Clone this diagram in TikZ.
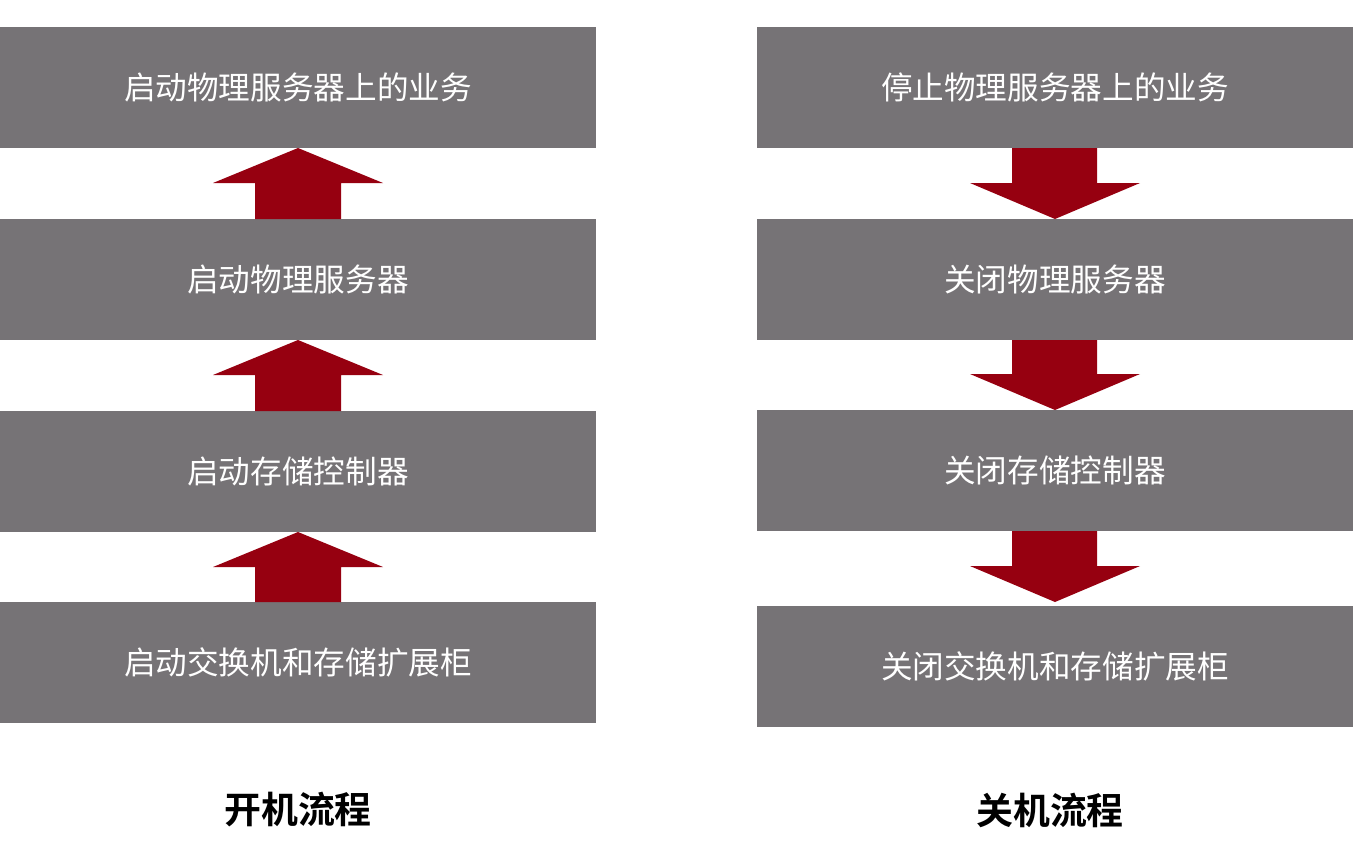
\documentclass[tikz,border=0pt]{standalone}
\usepackage{fontspec}
\setmainfont{Noto Sans CJK SC}[BoldFont={Noto Sans CJK SC Bold}]
\usetikzlibrary{positioning}
\definecolor{boxgray}{HTML}{767376}
\definecolor{arrowred}{HTML}{960010}
\begin{document}
\begin{tikzpicture}[x=0.02cm,y=-0.02cm,
    stepbox/.style={rectangle, fill=boxgray, minimum width=11.92cm, minimum height=2.42cm, inner sep=0pt, text=white, font=\fontsize{18pt}{20pt}\selectfont},
    flowtitle/.style={font=\fontsize{21pt}{24pt}\selectfont\bfseries, text=black}
]
    \useasboundingbox (0,0) rectangle (1353,840);

    % Left side: start-up flow
    \node[stepbox] (on1) at (298,87.5) {启动物理服务器上的业务};
    \node[stepbox] (on2) at (298,279.5) {启动物理服务器};
    \node[stepbox] (on3) at (298,471.5) {启动存储控制器};
    \node[stepbox] (on4) at (298,662.5) {启动交换机和存储扩展柜};
    \node[flowtitle] (ontitle) at (298,810) {开机流程};

    \foreach \top/\bot in {148/219, 340/411, 532/602}{
        \fill[arrowred] (255,\bot) -- (255,\top+35) -- (213,\top+35) -- (298,\top)
            -- (383,\top+35) -- (341,\top+35) -- (341,\bot) -- cycle;
    }

    % Right side: shut-down flow
    \node[stepbox] (off1) at (1055,87.5) {停止物理服务器上的业务};
    \node[stepbox] (off2) at (1055,279.5) {关闭物理服务器};
    \node[stepbox] (off3) at (1055,470.5) {关闭存储控制器};
    \node[stepbox] (off4) at (1055,666.5) {关闭交换机和存储扩展柜};
    \node[flowtitle] (offtitle) at (1050,810) {关机流程};

    \foreach \top/\bot in {148/219, 340/410, 531/602}{
        \fill[arrowred] (1012,\top) -- (1012,\bot-36) -- (970,\bot-36) -- (1055,\bot)
            -- (1140,\bot-36) -- (1097,\bot-36) -- (1097,\top) -- cycle;
    }
\end{tikzpicture}
\end{document}
